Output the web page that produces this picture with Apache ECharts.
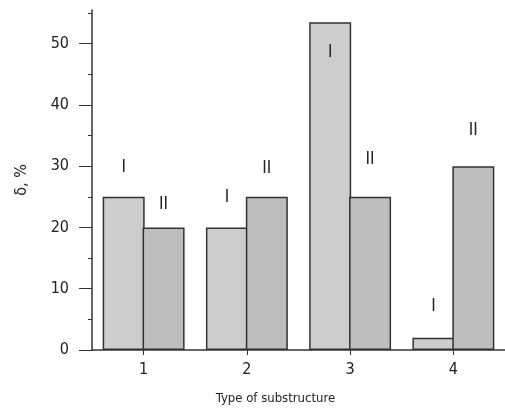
<!DOCTYPE html>
<html>
<head>
<meta charset="utf-8">
<script src="https://cdn.jsdelivr.net/npm/echarts@6/dist/echarts.min.js"></script>
<style>
  html, body { margin: 0; padding: 0; background: #fff; }
  #chart { width: 505px; height: 413px; }
</style>
</head>
<body>
<div id="chart"></div>
<script>
var categories = ['1', '2', '3', '4'];
var seriesNames = ['I', 'II'];
var valuesI = [25, 20, 53.5, 2];
var valuesII = [20, 25, 25, 30];
var yTicks = [0, 10, 20, 30, 40, 50];

// how far each roman numeral sits above its bar (negative = inside the top)
var gapI = [21, 21, -22, 23];
var gapII = [14, 20, 29, 27];

var font = "'Liberation Sans Narrow', 'DejaVu Sans Condensed', sans-serif";

function withLabels(values, gaps, name) {
  return values.map(function (v, i) {
    var inside = gaps[i] < 0;
    return {
      value: v,
      label: {
        show: true,
        formatter: name,
        position: inside ? 'insideTop' : 'top',
        distance: Math.abs(gaps[i])
      }
    };
  });
}

var myChart = echarts.init(document.getElementById('chart'));

myChart.setOption({
  animation: false,
  backgroundColor: '#fff',
  grid: { left: 92, top: 10, width: 417, bottom: 63, containLabel: false },
  xAxis: {
    type: 'category',
    data: categories,
    name: 'Type of substructure',
    nameLocation: 'middle',
    nameGap: 42,
    nameTextStyle: { fontFamily: font, fontSize: 13, color: '#222', padding: [0, 46, 0, 0] },
    axisLine: { lineStyle: { color: '#333', width: 1.5 } },
    axisTick: { show: true, alignWithLabel: true, length: 5, lineStyle: { color: '#333' } },
    axisLabel: { fontFamily: font, fontSize: 16, color: '#222', margin: 12 }
  },
  yAxis: {
    type: 'value',
    min: 0,
    max: 55.5,
    interval: 10,
    name: 'δ, %',
    nameLocation: 'middle',
    nameGap: 62,
    nameRotate: 90,
    nameTextStyle: { fontFamily: font, fontSize: 16, color: '#222' },
    splitLine: { show: false },
    axisLine: { show: true, lineStyle: { color: '#333', width: 1.5 } },
    axisTick: { show: true, length: 13, customValues: yTicks, lineStyle: { color: '#333' } },
    minorTick: { show: true, splitNumber: 2, length: 4, lineStyle: { color: '#333' } },
    axisLabel: {
      fontFamily: font, fontSize: 16, color: '#222', margin: 23,
      customValues: yTicks
    }
  },
  series: [
    {
      name: seriesNames[0],
      type: 'bar',
      barWidth: 42,
      barGap: '-5%',
      data: withLabels(valuesI, gapI, seriesNames[0]),
      itemStyle: { color: '#cdcdcd', borderColor: '#333', borderWidth: 1.5 },
      label: { fontFamily: font, fontSize: 17, color: '#222' }
    },
    {
      name: seriesNames[1],
      type: 'bar',
      barWidth: 42,
      barGap: '-5%',
      data: withLabels(valuesII, gapII, seriesNames[1]),
      itemStyle: { color: '#bdbdbd', borderColor: '#333', borderWidth: 1.5 },
      label: { fontFamily: font, fontSize: 17, color: '#222' }
    }
  ]
});
</script>
</body>
</html>
